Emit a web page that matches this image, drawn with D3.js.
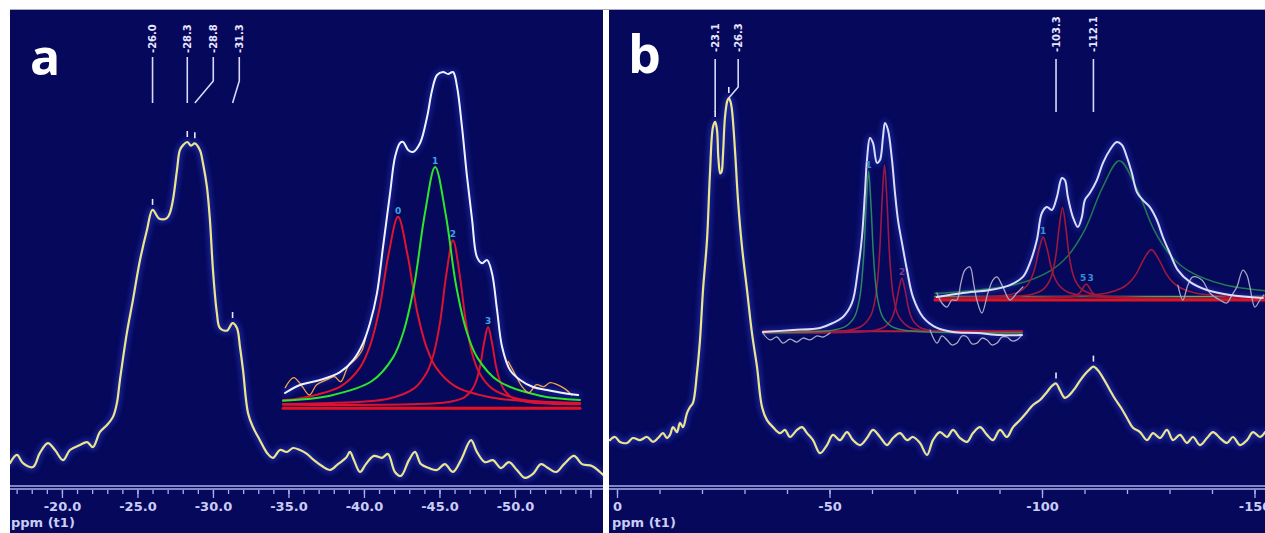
<!DOCTYPE html>
<html>
<head>
<meta charset="utf-8">
<script src="https://cdn.jsdelivr.net/npm/d3@7"></script>
<style>
  html, body { margin: 0; padding: 0; background: #ffffff; }
  svg { display: block; }
</style>
</head>
<body>
<svg id="chart" width="1265" height="533"></svg>
<script>
// ---------- Panel a: 13C spectrum, [ppm, relative intensity] ----------
const specA = [
  [-16.56,2.1],[-17.02,4.6],[-17.42,2.1],[-18.08,0.9],[-18.54,5.2],[-19.07,8.2],[-19.54,6.1],[-20.07,3.0],
  [-20.53,6.1],[-21.19,7.6],[-21.66,8.5],[-22.05,7.0],[-22.52,11.6],[-22.98,13.7],[-23.38,16.2],[-23.64,20.4],
  [-23.84,27.4],[-24.30,41.8],[-24.70,51.8],[-25.17,64.0],[-25.63,73.2],[-26.0,79.3],[-26.45,76.6],[-26.95,76.8],
  [-27.15,78.4],[-27.35,82.3],[-27.62,91.5],[-27.81,97.5],[-28.05,99.2],[-28.3,100],[-28.55,98.9],[-28.8,99.6],
  [-29.14,97.5],[-29.34,93.5],[-29.6,86.3],[-29.8,76.2],[-30.0,61.0],[-30.26,47.9],[-30.46,43.3],[-30.93,42.5],
  [-31.3,44.8],[-31.59,43.3],[-31.79,37.5],[-31.99,30.5],[-32.32,17.4],[-32.65,13.1],[-33.11,9.1],[-33.58,5.2],
  [-33.97,3.7],[-34.44,6.1],[-34.9,5.5],[-35.3,6.7],[-35.76,6.1],[-36.2,5.0],[-36.69,3.0],[-37.22,1.2],
  [-37.75,0],[-38.28,1.8],[-38.81,3.7],[-39.07,5.5],[-39.34,3.0],[-39.74,-0.6],[-40.13,1.8],[-40.66,4.3],
  [-41.19,3.7],[-41.59,4.9],[-42.05,-0.6],[-42.45,-1.8],[-42.98,3.0],[-43.38,5.5],[-43.77,1.8],[-44.3,0.6],
  [-44.83,0],[-45.36,1.8],[-45.89,-0.6],[-46.42,3.0],[-47.09,9.1],[-47.48,5.5],[-48.01,2.4],[-48.54,3.0],
  [-49.07,0.6],[-49.6,2.4],[-50.13,0],[-50.66,-2.4],[-51.19,-1.2],[-51.72,1.8],[-52.19,0.6],[-52.72,-0.6],
  [-53.25,1.8],[-53.91,4.3],[-54.44,1.8],[-55.1,1.2],[-55.63,-0.6],[-56.03,-2.4]
];
const peaksA = [-26.0, -28.3, -28.8, -31.3];

// deconvolution of panel a: fitted envelope and the four components
const envA = [
  [-18.53,3.6],[-19.48,6.0],[-20.75,7.5],[-22.01,9.9],[-22.84,13.5],[-23.47,18.6],[-23.91,24.6],[-24.35,33.6],
  [-24.73,47.4],[-25.18,63.7],[-25.49,74.5],[-25.81,78.7],[-26.0,79.0],[-26.32,76.6],[-26.63,76.0],[-27.08,78.7],
  [-27.52,86.5],[-27.84,94.6],[-28.15,99.1],[-28.53,100],[-28.85,99.4],[-29.16,100],[-29.42,95.5],[-29.73,83.5],
  [-30.05,68.5],[-30.37,55.6],[-30.68,44.4],[-31.0,42.6],[-31.32,43.5],[-31.63,39.6],[-31.95,28.5],[-32.27,17.4],
  [-32.77,10.5],[-33.41,7.5],[-34.23,5.4],[-35.11,4.5],[-36.13,3.6],[-37.08,3.0]
];
const fitA0 = [[-18.4,1.5],[-19.68,2.2],[-22.08,5.7],[-23.28,11.3],[-23.88,17.4],[-24.48,28.3],[-25.08,45.2],[-25.68,56.5],
  [-26.28,45.2],[-26.88,28.3],[-27.48,17.4],[-28.08,11.3],[-29.28,5.7],[-31.68,2.2],[-35.28,0.9],[-37.2,0.6]];
const fitA1 = [[-18.4,1.3],[-21.38,2.8],[-24.03,7.2],[-25.37,14.3],[-26.03,22.0],[-26.7,35.8],[-27.37,57.2],[-28.03,71.5],
  [-28.7,57.2],[-29.36,35.8],[-30.03,22.0],[-30.69,14.3],[-32.03,7.2],[-34.68,2.8],[-37.2,1.5]];
const fitA2 = [[-18.4,0.3],[-20.96,0.5],[-25.06,1.9],[-26.7,5.0],[-27.52,9.9],[-27.93,15.2],[-28.34,24.8],[-28.75,39.6],
  [-29.16,49.5],[-29.57,39.6],[-29.98,24.8],[-30.39,15.2],[-30.8,9.9],[-31.62,5.0],[-33.26,1.9],[-37.2,0.5]];
const fitA3 = [[-18.4,0.1],[-26.38,0.2],[-28.88,0.9],[-29.88,2.3],[-30.38,4.7],[-30.63,7.2],[-30.88,11.7],[-31.13,18.7],
  [-31.38,23.4],[-31.63,18.7],[-31.88,11.7],[-32.13,7.2],[-32.38,4.7],[-32.88,2.3],[-33.88,0.9],[-37.2,0.2]];
const fitBaseA = [[-18.4,-1],[-37.2,-1]];
const fitNamesA = ["0", "1", "2", "3"];

// ---------- Panel b: 13C spectrum ----------
const specB = [
  [1.65,2.8],[0.47,3.7],[-0.71,2.3],[-2.35,2.0],[-3.76,3.4],[-5.41,2.8],[-7.06,3.7],[-8.47,2.3],[-9.65,3.4],
  [-10.82,4.8],[-11.76,3.4],[-12.47,4.3],[-13.18,6.5],[-14.12,5.1],[-14.82,7.7],[-15.53,6.5],[-16.47,10.5],
  [-17.18,12.2],[-17.88,13.4],[-18.82,21.9],[-19.53,31.3],[-20.24,45.5],[-21.18,59.7],[-21.88,78.7],[-22.59,91.8],
  [-23.1,93.2],[-23.53,90.9],[-23.85,83],[-24.3,78.6],[-24.6,79],[-24.94,84],[-25.41,94.6],[-25.95,99.2],
  [-26.3,100],[-26.7,99.0],[-27.06,96.5],[-27.76,85.2],[-28.47,71.0],[-29.41,57.7],[-30.59,45.5],[-31.76,33.2],
  [-32.94,23.6],[-34.12,12.2],[-35.29,8.5],[-36.71,6.5],[-38.35,4.8],[-39.53,5.7],[-40.71,3.7],[-42.35,5.7],
  [-43.53,6.5],[-44.71,4.8],[-46.12,2.8],[-47.76,-0.9],[-49.41,1.4],[-50.82,4.3],[-52.47,2.8],[-54.12,5.1],
  [-55.53,2.8],[-57.18,1.4],[-58.82,3.4],[-60.24,5.7],[-61.88,3.7],[-63.53,1.4],[-64.94,3.4],[-66.59,4.8],
  [-68.24,2.8],[-69.65,3.7],[-71.29,2.0],[-72.94,-1.4],[-74.35,2.8],[-76.0,5.1],[-77.65,3.7],[-79.06,5.7],
  [-80.71,3.4],[-82.35,2.3],[-83.76,4.8],[-85.41,6.5],[-87.06,4.3],[-88.47,2.8],[-90.12,5.7],[-91.76,3.7],
  [-93.18,6.5],[-94.82,8.5],[-96.47,10.8],[-97.88,12.8],[-99.53,14.2],[-101.18,16.5],[-102.35,18.2],[-103.3,18.9],
  [-104.3,16.8],[-105.4,14.8],[-106.6,15.8],[-107.8,17.6],[-109.0,19.8],[-110.3,21.8],[-111.3,23.0],[-112.1,23.7],
  [-113.2,22.6],[-114.6,20.0],[-115.9,17.2],[-117.2,14.5],[-118.6,12.0],[-120.0,9.1],[-121.41,6.3],[-123.06,5.1],
  [-124.71,2.8],[-126.12,4.8],[-127.76,3.4],[-129.41,5.7],[-130.82,2.8],[-132.47,4.3],[-134.12,2.0],[-135.53,3.7],
  [-137.18,1.4],[-138.82,3.4],[-140.24,5.1],[-141.88,3.4],[-143.53,2.0],[-144.94,3.7],[-146.59,1.4],[-148.24,2.8],
  [-149.65,5.1],[-151.29,3.7],[-152.47,5.1]
];
const peaksB = [-23.1, -26.3, -103.3, -112.1];

// deconvolution of the -23 / -26 ppm doublet
const envB1 = [
  [-0.28,0.5],[-6.68,1.4],[-12.44,2.4],[-15.21,4.8],[-17.34,7.6],[-19.26,14.3],[-20.54,30.0],[-21.39,45.7],
  [-22.03,66.7],[-22.46,82.4],[-23.1,92.9],[-23.74,90.5],[-24.59,81.0],[-25.23,82.4],[-25.87,93.3],[-26.3,100],
  [-26.94,96.7],[-27.79,82.4],[-28.43,66.7],[-29.07,53.8],[-29.92,42.9],[-30.99,30.0],[-32.27,17.1],[-34.4,7.6],
  [-37.39,2.4],[-40.8,0.5],[-45.91,0],[-50.82,-1.0],[-55.51,-1.0]
];
const rawB1Left = [[-0.28,0],[-1.78,-3.3],[-3.27,-1.9],[-4.55,-4.8],[-6.04,-2.9],[-7.54,-4.3],[-8.81,-2.4],
  [-10.3,-3.3],[-11.8,-1.4],[-13.08,-1.9],[-14.57,0]];
const rawB1Right = [[-35.89,1.4],[-37.39,-4.8],[-38.45,-1.4],[-39.52,-3.3],[-40.58,-5.7],[-41.65,-4.8],[-42.72,-1.4],
  [-43.78,-1.9],[-44.85,-5.2],[-45.91,-4.8],[-46.98,-2.4],[-48.05,-3.3],[-49.11,-5.7],[-50.18,-4.8],[-51.24,-1.9],
  [-52.31,-1.9],[-53.38,-3.8],[-54.44,-3.3],[-55.3,-1.4]];
const fitB1g = [[-0.3,0.2],[-14.8,1.2],[-17.8,3.0],[-19.8,7.7],[-20.8,15.4],[-21.3,23.7],[-21.8,38.5],[-22.3,61.6],
  [-22.8,77],[-23.3,61.6],[-23.8,38.5],[-24.3,23.7],[-24.8,15.4],[-25.8,7.7],[-27.8,3.0],[-30.8,1.2],[-55.5,0.1]];
const fitB1r = [[-0.3,0.1],[-18.2,1.2],[-21.2,3.1],[-23.2,8],[-24.2,16],[-24.7,24.6],[-25.2,40],[-25.7,64],[-26.2,80],
  [-26.7,64],[-27.2,40],[-27.7,24.6],[-28.2,16],[-29.2,8],[-31.2,3.1],[-34.2,1.2],[-55.5,0.1]];
const fitB1s = [[-0.3,0.05],[-23.4,1.0],[-26.0,2.6],[-27.3,5.2],[-27.95,8],[-28.6,13],[-29.25,20.8],[-29.9,26],
  [-30.55,20.8],[-31.2,13],[-31.85,8],[-32.5,5.2],[-33.8,2.6],[-36.4,1.0],[-55.5,0.1]];
const fitBaseB1 = [[-0.3,0.8],[-55.5,0.8]];

// deconvolution of the -100 / -112 ppm region
const envB2 = [
  [-83.3,0.6],[-87.46,3.2],[-91.78,5.1],[-94.98,8.3],[-97.06,13.5],[-98.18,22.4],[-99.3,37.2],[-100.1,54.5],
  [-100.9,58.3],[-101.7,56.4],[-102.5,64.7],[-103.3,76.9],[-103.78,75.6],[-104.26,64.7],[-105.06,51.9],[-105.86,45.5],
  [-106.5,51.9],[-106.98,62.8],[-107.78,67.3],[-108.9,75.6],[-109.86,86.5],[-110.98,94.9],[-112.1,100],[-112.9,98.1],
  [-113.7,90.4],[-114.5,80.1],[-115.3,67.9],[-116.26,62.8],[-117.38,58.3],[-118.5,50.0],[-119.46,39.1],[-120.58,28.8],
  [-121.86,17.9],[-123.78,10.3],[-126.5,5.1],[-130.18,1.9],[-135.46,0]
];
const rawB2Left = [[-83.3,3.2],[-84.1,-3.2],[-84.9,-5.8],[-85.7,-1.3],[-86.5,-1.3],[-87.14,9.6],[-87.78,17.9],
  [-88.58,19.9],[-89.22,8.3],[-89.7,-1.3],[-90.5,-9.6],[-91.46,3.2],[-92.26,11.5],[-92.9,13.5],[-93.86,7.1],
  [-94.98,-1.3],[-96.1,3.2],[-97.06,7.1]];
const rawB2Right = [[-121.86,8.3],[-122.66,-1.3],[-123.46,8.3],[-124.26,13.5],[-125.7,11.5],[-126.98,3.2],
  [-128.58,-1.3],[-129.7,-3.2],[-130.5,1.9],[-131.3,7.1],[-132.26,17.9],[-132.9,14.7],[-133.38,7.1],[-134.18,-5.8],
  [-134.98,-1.3],[-135.62,1.9]];
const fitB2g = [[-83.0,3.0],[-85.0,3.4],[-96.0,8.8],[-101.5,17.6],[-104.25,27],[-107.0,44],[-109.75,70.4],[-112.5,88],
  [-115.25,70.4],[-118.0,44],[-120.75,27],[-123.5,17.6],[-129.0,8.8],[-135.8,4.6]];
const fitB2r1 = [[-83.0,0.2],[-93.8,1.5],[-96.4,3.9],[-97.7,7.8],[-98.35,12],[-99.0,19.5],[-99.65,31.2],[-100.3,39],
  [-100.95,31.2],[-101.6,19.5],[-102.25,12],[-102.9,7.8],[-104.2,3.9],[-106.8,1.5],[-135.8,0.1]];
const fitB2r2 = [[-83.0,0.1],[-95.4,0.9],[-98.4,2.2],[-100.4,5.8],[-101.4,11.6],[-101.9,17.8],[-102.4,29],[-102.9,46.4],
  [-103.4,58],[-103.9,46.4],[-104.4,29],[-104.9,17.8],[-105.4,11.6],[-106.4,5.8],[-108.4,2.2],[-111.4,0.9],[-135.8,0.1]];
const fitB2r3 = [[-83.0,0],[-103.2,0.4],[-104.8,0.9],[-105.6,1.8],[-106.0,2.8],[-106.4,4.5],[-106.8,7.2],[-107.2,9],
  [-107.6,7.2],[-108.0,4.5],[-108.4,2.8],[-108.8,1.8],[-109.6,0.9],[-111.2,0.4],[-135.8,0]];
const fitB2r4 = [[-83.0,0.1],[-105.6,1.2],[-110.4,3.1],[-112.8,6.2],[-114.0,9.5],[-115.2,15.5],[-116.4,24.8],[-117.6,31],
  [-118.8,24.8],[-120.0,15.5],[-121.2,9.5],[-122.4,6.2],[-124.8,3.1],[-129.6,1.2],[-135.8,0.6]];
const fitBaseB2 = [[-83.0,-1.3],[-135.8,-1.3]];
const fitBaseB2g = [[-83.0,1.0],[-135.8,1.0]];

// ---------- axes ----------
const majorTicksA = [-20, -25, -30, -35, -40, -45, -50, -55];
const tickLabelsA = ["-20.0", "-25.0", "-30.0", "-35.0", "-40.0", "-45.0", "-50.0"];
const majorTicksB = [0, -50, -100, -150];
const tickLabelsB = ["0", "-50", "-100", "-150"];
const axisTitle = "ppm (t1)";

// ---------- drawing ----------
const BG = "#06085c";
const svg = d3.select("#chart");
const defs = svg.append("defs");
defs.append("clipPath").attr("id", "clipA").append("rect").attr("x", 10).attr("y", 10).attr("width", 593).attr("height", 523);
defs.append("clipPath").attr("id", "clipB").append("rect").attr("x", 609).attr("y", 10).attr("width", 656).attr("height", 523);
const haze = defs.append("filter").attr("id", "haze").attr("x", "-10%").attr("y", "-10%").attr("width", "120%").attr("height", "120%");
haze.append("feGaussianBlur").attr("stdDeviation", 2.5);

svg.append("rect").attr("width", 1265).attr("height", 533).attr("fill", "#ffffff");
svg.append("line").attr("x1", 10).attr("x2", 1265).attr("y1", 9.5).attr("y2", 9.5).attr("stroke", "#a8abc0").attr("stroke-width", 1);
svg.append("rect").attr("x", 10).attr("y", 10).attr("width", 593).attr("height", 523).attr("fill", BG);
svg.append("rect").attr("x", 609).attr("y", 10).attr("width", 656).attr("height", 523).attr("fill", BG);

const curve = d3.curveCatmullRom.alpha(0.5);
function lineGen(x, y) {
  return d3.line().x(d => x(d[0])).y(d => y(d[1])).curve(curve);
}
function trace(g, data, x, y, color, width, extra = {}) {
  const p = g.append("path").datum(data)
    .attr("d", lineGen(x, y))
    .attr("fill", "none")
    .attr("stroke", color)
    .attr("stroke-width", width)
    .attr("stroke-linejoin", "round")
    .attr("stroke-linecap", "round");
  if (extra.opacity != null) p.attr("opacity", extra.opacity);
  if (extra.filter) p.attr("filter", extra.filter);
  return p;
}
function glow(g, data, x, y, width, opacity = 0.5) {
  trace(g, data, x, y, "#2b3fcc", width, { opacity: opacity, filter: "url(#haze)" });
}
function valueAt(data, ppm) {
  for (let i = 0; i < data.length - 1; i++) {
    const a = data[i], b = data[i + 1];
    if ((ppm <= a[0] && ppm >= b[0]) || (ppm >= a[0] && ppm <= b[0])) {
      const t = (ppm - a[0]) / (b[0] - a[0] || 1);
      return a[1] + t * (b[1] - a[1]);
    }
  }
  return 0;
}

function drawAxis(g, x, x0, x1, minorVals, majorVals, labels, titleX) {
  const col = "#aab0ec";
  [486, 489].forEach(yy => g.append("line").attr("x1", x0).attr("x2", x1).attr("y1", yy).attr("y2", yy)
    .attr("stroke", col).attr("stroke-width", 1.3));
  const minor = g.append("g").attr("transform", "translate(0,490)")
    .call(d3.axisBottom(x).tickValues(minorVals).tickSize(4).tickFormat(""));
  const major = g.append("g").attr("transform", "translate(0,490)")
    .call(d3.axisBottom(x).tickValues(majorVals).tickSize(8)
      .tickFormat(d => { const i = majorVals.indexOf(d); return labels[i] || ""; }));
  [minor, major].forEach(a => {
    a.select(".domain").remove();
    a.selectAll(".tick line").attr("stroke", col).attr("stroke-width", 1.3);
  });
  major.selectAll(".tick text")
    .attr("fill", "#c9cdf5").attr("font-family", "DejaVu Sans").attr("font-weight", "bold")
    .attr("font-size", 13).attr("y", 12);
  g.append("text").attr("x", titleX).attr("y", 527).text(axisTitle)
    .attr("fill", "#c9cdf5").attr("font-family", "DejaVu Sans").attr("font-weight", "bold").attr("font-size", 13);
}

function peakLabels(g, peaks, data, x, y, o) {
  let prev = -Infinity;
  peaks.forEach(p => {
    const px = x(p);
    const lx = Math.max(px, prev + o.gap);
    prev = lx;
    const py = y(valueAt(data, p));
    // small peak marker above the maximum
    g.append("line").attr("x1", px).attr("x2", px).attr("y1", py - 11).attr("y2", py - 5)
      .attr("stroke", "#e8e8ff").attr("stroke-width", 1.6);
    const end = Math.min(o.endMax, py);
    const path = Math.abs(lx - px) < 0.5
      ? `M${lx},${o.top}L${px},${end}`
      : `M${lx},${o.top}L${lx},${end - o.bend}L${px},${end}`;
    g.append("path").attr("d", path).attr("fill", "none").attr("stroke", "#d8d8fa").attr("stroke-width", 1.6);
    g.append("text")
      .attr("transform", `translate(${lx + 3.6},${o.textBottom}) rotate(-90)`)
      .attr("fill", "#e6e6ff").attr("font-family", "DejaVu Sans").attr("font-weight", "bold")
      .attr("font-size", 10).text(p.toFixed(1));
  });
}

function fitLabel(g, txt, ppm, h, x, y, color) {
  g.append("text").attr("x", x(ppm)).attr("y", y(h) - 3).attr("text-anchor", "middle")
    .attr("fill", color).attr("font-family", "DejaVu Sans").attr("font-weight", "bold")
    .attr("font-size", 9).text(txt);
}

// ===== Panel a =====
const gA = svg.append("g").attr("clip-path", "url(#clipA)");
const xA = d3.scaleLinear().domain([-16.56, -55.83]).range([10, 603]);
const yA = d3.scaleLinear().domain([0, 100]).range([470, 142]);

glow(gA, specA, xA, yA, 7);
trace(gA, specA, xA, yA, "#ede58c", 2.2);
peakLabels(gA, peaksA, specA, xA, yA, { gap: 26, top: 57, textBottom: 53, endMax: 103, bend: 22 });

// inset: line fitting; the measured trace shows only along the tails
const xAi = d3.scaleLinear().domain([-18.4, -37.2]).range([283, 580]);
const yAi = d3.scaleLinear().domain([0, 100]).range([405, 72]);
const rawAiLeft = specA.filter(d => d[0] <= -18.4 && d[0] >= -23.7);
const rawAiRight = specA.filter(d => d[0] <= -32.6 && d[0] >= -37.2);
glow(gA, envA, xAi, yAi, 7, 0.4);
trace(gA, fitBaseA, xAi, yAi, "#e8101e", 3);
trace(gA, fitA0, xAi, yAi, "#e0142c", 2);
trace(gA, fitA2, xAi, yAi, "#dc1232", 2);
trace(gA, fitA3, xAi, yAi, "#dc1232", 2);
trace(gA, fitA1, xAi, yAi, "#2be62b", 2);
trace(gA, rawAiLeft, xAi, yAi, "#f2a44a", 1.3);
trace(gA, rawAiRight, xAi, yAi, "#f2a44a", 1.3);
trace(gA, envA, xAi, yAi, "#f2f2ff", 2);
[[fitA0, -25.68, 56.5], [fitA1, -28.03, 71.5], [fitA2, -29.16, 49.5], [fitA3, -31.38, 23.4]].forEach((c, i) =>
  fitLabel(gA, fitNamesA[i], c[1], c[2], xAi, yAi, "#3ea2ea"));

drawAxis(gA, xA, 10, 603, d3.range(-17, -56, -1), majorTicksA, tickLabelsA, 11);

gA.append("text").attr("x", 30).attr("y", 75).text("a")
  .attr("fill", "#ffffff").attr("font-family", "Open Sans").attr("font-weight", "bold").attr("font-size", 50);

// ===== Panel b =====
const gB = svg.append("g").attr("clip-path", "url(#clipB)");
const xB = d3.scaleLinear().domain([0, -150]).range([617, 1254.5]);
const yB = d3.scaleLinear().domain([0, 100]).range([450, 98]);

glow(gB, specB, xB, yB, 7);
trace(gB, specB, xB, yB, "#ede58c", 2.2);
peakLabels(gB, peaksB, specB, xB, yB, { gap: 23, top: 59, textBottom: 52, endMax: 112, bend: 11 });

// inset 1
const xB1 = d3.scaleLinear().domain([-0.3, -55.5]).range([763, 1022]);
const yB1 = d3.scaleLinear().domain([0, 100]).range([333, 123]);
glow(gB, envB1, xB1, yB1, 7, 0.4);
trace(gB, fitBaseB1, xB1, yB1, "#b81c3c", 2);
trace(gB, fitB1r, xB1, yB1, "#9c1846", 1.6);
trace(gB, fitB1s, xB1, yB1, "#9c1846", 1.6);
trace(gB, fitB1g, xB1, yB1, "#2f9a62", 1.5, { opacity: 0.85 });
trace(gB, rawB1Left, xB1, yB1, "#a6a6c4", 1.3);
trace(gB, rawB1Right, xB1, yB1, "#a6a6c4", 1.3);
trace(gB, envB1, xB1, yB1, "#dcdcf8", 2);
fitLabel(gB, "1", -22.8, 77, xB1, yB1, "#3a8fd0");
fitLabel(gB, "2", -29.9, 26, xB1, yB1, "#7a3a8a");

// inset 2
const xB2 = d3.scaleLinear().domain([-83, -135.8]).range([935, 1265]);
const yB2 = d3.scaleLinear().domain([0, 100]).range([298, 142]);
glow(gB, envB2, xB2, yB2, 7, 0.4);
trace(gB, fitBaseB2, xB2, yB2, "#e0141e", 3);
trace(gB, fitBaseB2g, xB2, yB2, "#3cbc6c", 1.5);
trace(gB, fitB2g, xB2, yB2, "#1f7a55", 1.5);
trace(gB, fitB2r1, xB2, yB2, "#a0183c", 1.6);
trace(gB, fitB2r2, xB2, yB2, "#a0183c", 1.6);
trace(gB, fitB2r3, xB2, yB2, "#a0183c", 1.6);
trace(gB, fitB2r4, xB2, yB2, "#a0183c", 1.6);
trace(gB, rawB2Left, xB2, yB2, "#a6a6c4", 1.3);
trace(gB, rawB2Right, xB2, yB2, "#a6a6c4", 1.3);
trace(gB, envB2, xB2, yB2, "#dcdcf8", 2);
fitLabel(gB, "1", -100.3, 39, xB2, yB2, "#3a8fd0");
fitLabel(gB, "5", -106.7, 9, xB2, yB2, "#3a8fd0");
fitLabel(gB, "3", -107.9, 9, xB2, yB2, "#3a8fd0");

drawAxis(gB, xB, 609, 1265, d3.range(0, -151, -10), majorTicksB, tickLabelsB, 612);

gB.append("text").attr("x", 628).attr("y", 73).text("b")
  .attr("fill", "#ffffff").attr("font-family", "Open Sans").attr("font-weight", "bold").attr("font-size", 52);
</script>
</body>
</html>
